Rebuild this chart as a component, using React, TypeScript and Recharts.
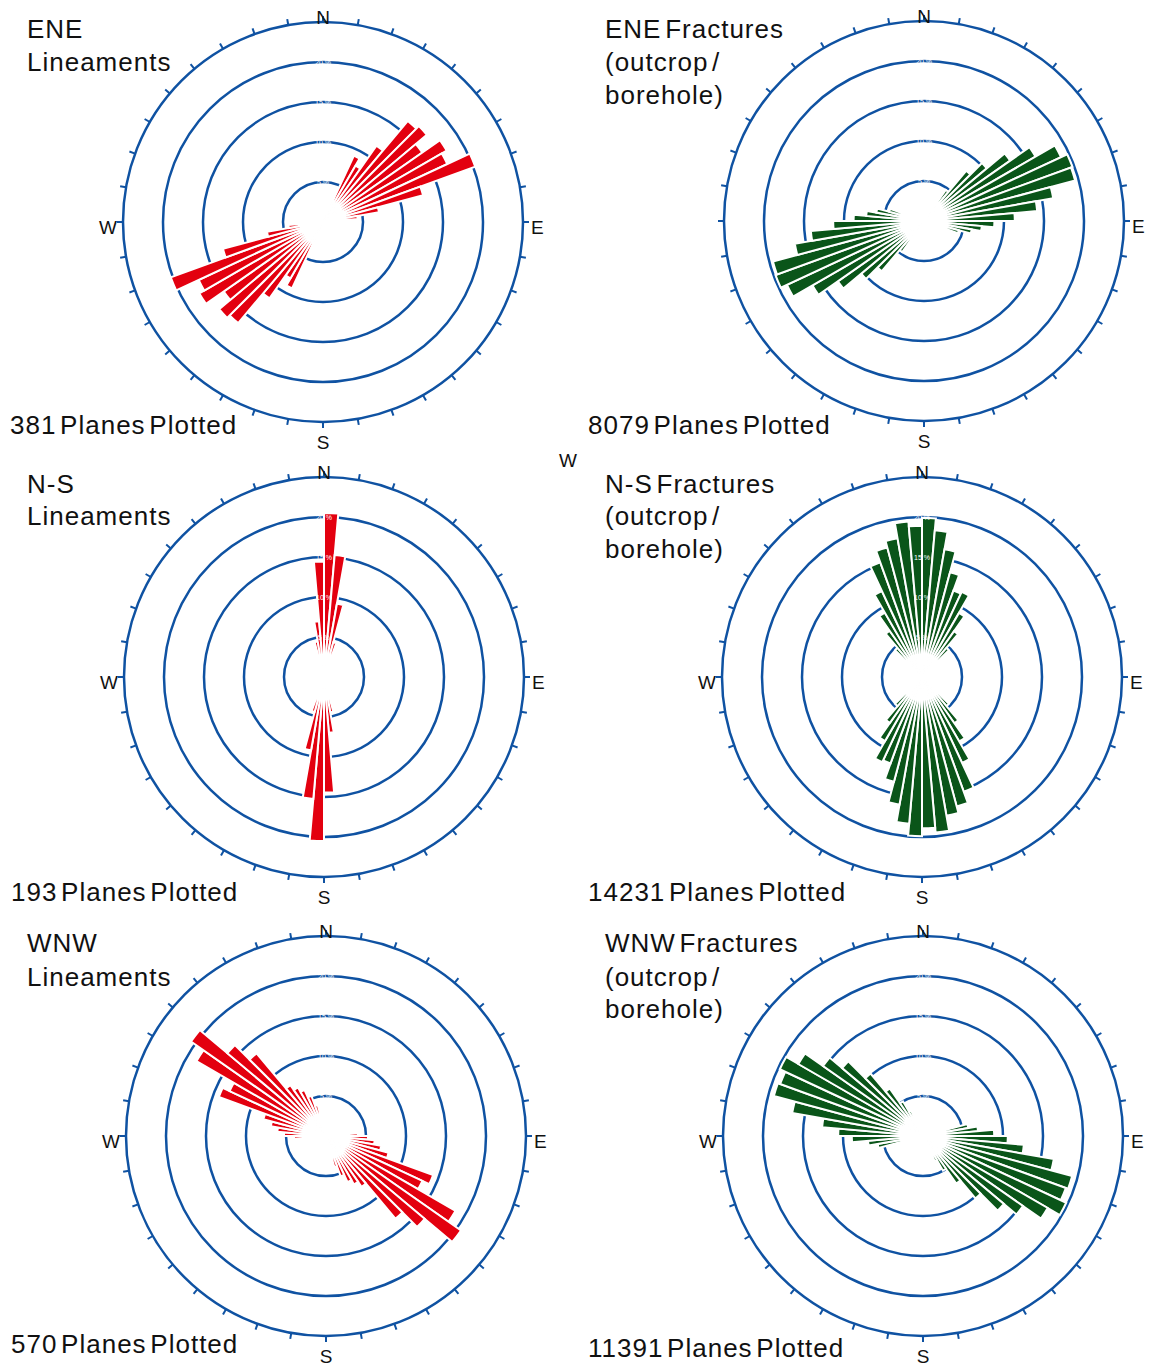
import React from "react";
import {
  RadialBarChart,
  RadialBar,
  PolarGrid,
  PolarAngleAxis,
  PolarRadiusAxis,
} from "recharts";

const BLUE = "#0f52a2";
const RED = "#e3000f";
const GREEN = "#0a5519";
const FONT = "'Liberation Sans', Arial, Helvetica, sans-serif";

// petal lengths per 5° strike bin, 0–180°; the 180–360° half mirrors it
const ENE_LINEAMENTS = [
  0, 0, 0, 0, 0, 1.83, 1.63, 2.33, 3.3, 3.39, 3.03, 3.57, 3.43, 4.05, 2.59, 1.42, 0.87, 0,
  0, 0, 0, 0, 0, 0, 0, 0, 0, 0, 0, 0, 0, 0, 0, 0, 0, 0,
];
const ENE_FRACTURES = [
  0, 0, 0, 0, 0, 0, 0, 0.95, 1.64, 2.05, 2.63, 3.22, 3.78, 3.95, 3.91, 3.28, 2.84, 2.27,
  1.76, 1.45, 1.21, 0.9, 0, 0, 0, 0, 0, 0, 0, 0, 0, 0, 0, 0, 0, 0,
];
const NS_LINEAMENTS = [
  4.1, 3.06, 1.86, 0.9, 0, 0, 0, 0, 0, 0, 0, 0, 0, 0, 0, 0, 0, 0,
  0, 0, 0, 0, 0, 0, 0, 0, 0, 0, 0, 0, 0, 0, 0, 0.9, 1.4, 2.89,
];
const NS_FRACTURES = [
  3.98, 3.68, 3.24, 2.71, 2.3, 2.35, 1.85, 1.4, 0.95, 0, 0, 0, 0, 0, 0, 0, 0, 0,
  0, 0, 0, 0, 0, 0, 0, 0, 0, 0.95, 1.41, 1.86, 2.37, 3.05, 3.35, 3.52, 3.9, 3.78,
];
const WNW_LINEAMENTS = [
  0, 0, 0, 0, 0, 0, 0, 0, 0, 0, 0, 0, 0, 0, 0, 0, 0, 0.8,
  1.05, 1.22, 1.4, 1.62, 2.85, 2.66, 3.74, 4.12, 3.22, 2.7, 1.55, 1.4, 1.27, 1.07, 0.8, 0, 0, 0,
];
const WNW_FRACTURES = [
  0, 0, 0, 0, 0, 0, 0, 0, 0, 0, 0, 0, 0, 0, 0, 1.15, 1.38, 1.78,
  2.12, 2.53, 3.32, 3.86, 3.8, 3.95, 3.6, 3.05, 2.64, 2.04, 1.45, 1.0, 0.7, 0, 0, 0, 0, 0,
];

const RINGS = [1, 2, 3, 4];
const COMPASS_TICKS = [
  0, 10, 20, 30, 40, 50, 60, 70, 80, 90, 100, 110, 120, 130, 140, 150, 160, 170,
  180, 190, 200, 210, 220, 230, 240, 250, 260, 270, 280, 290, 300, 310, 320, 330, 340, 350,
];

const SIZE = 470;
const HALF = SIZE / 2;
const R = 200;

const toRows = (half: number[]) =>
  [...half, ...half].map((v, i) => ({ bin: i * 5, value: v }));
const compassRows = COMPASS_TICKS.map((deg) => ({ deg, zero: 0 }));

const compassTick = (showW: boolean) => (props: any) => {
  const { x, y, payload } = props;
  const v = payload?.value;
  const t = { fontFamily: FONT, fontSize: 19, fill: "#111" };
  if (v === 0)
    return <text x={x} y={y + 8} textAnchor="middle" {...t}>N</text>;
  if (v === 90)
    return <text x={x + 2} y={y + 12} textAnchor="start" {...t}>E</text>;
  if (v === 180)
    return <text x={x} y={y + 21} textAnchor="middle" {...t}>S</text>;
  if (v === 270 && showW)
    return <text x={x} y={y + 12} textAnchor="end" {...t}>W</text>;
  return <g />;
};

// ring labels are printed in white in the source, only nicking the circles
const ringTick = (props: any) => {
  const { x, y, payload } = props;
  return (
    <text x={x} y={y + 3} textAnchor="middle" fontSize={7} fontFamily={FONT} fill="#fff">
      {payload?.value * 5} %
    </text>
  );
};

function Rose({ half, color, cx, cy, showW = true }: { half: number[]; color: string; cx: number; cy: number; showW?: boolean }) {
  const box = { position: "absolute" as const, left: cx - HALF, top: cy - HALF };
  return (
    <>
      <div style={box}>
        <RadialBarChart
          width={SIZE}
          height={SIZE}
          data={toRows(half)}
          layout="centric"
          cx={HALF}
          cy={HALF}
          innerRadius={0}
          outerRadius={R}
          startAngle={85}
          endAngle={-275}
          barCategoryGap={0}
          barGap={0}
          margin={{ top: 0, right: 0, bottom: 0, left: 0 }}
        >
          <PolarGrid gridType="circle" radialLines={false} stroke={BLUE} strokeWidth={2.5} />
          <PolarAngleAxis dataKey="bin" type="category" axisLine={false} tickLine={false} tick={false} />
          <PolarRadiusAxis
            type="number"
            domain={[0, 5]}
            ticks={RINGS}
            angle={90}
            axisLine={false}
            tickLine={false}
            tick={ringTick}
          />
          <PolarRadiusAxis
            radiusAxisId="south"
            type="number"
            domain={[0, 5]}
            ticks={RINGS}
            angle={-90}
            axisLine={false}
            tickLine={false}
            tick={ringTick}
          />
          <RadialBar dataKey="value" fill={color} stroke="#fff" strokeWidth={2} isAnimationActive={false} />
        </RadialBarChart>
      </div>
      <div style={{ ...box, pointerEvents: "none" }}>
        <RadialBarChart
          width={SIZE}
          height={SIZE}
          data={compassRows}
          layout="centric"
          cx={HALF}
          cy={HALF}
          innerRadius={0}
          outerRadius={R}
          startAngle={90}
          endAngle={-270}
          barCategoryGap={0}
          margin={{ top: 0, right: 0, bottom: 0, left: 0 }}
        >
          <PolarAngleAxis
            dataKey="deg"
            type="category"
            axisLineType="circle"
            tickSize={6}
            axisLine={{ stroke: BLUE, strokeWidth: 2.5 }}
            tickLine={{ stroke: BLUE, strokeWidth: 2 }}
            tick={compassTick(showW)}
          />
          <PolarRadiusAxis type="number" domain={[0, 5]} axisLine={false} tickLine={false} tick={false} />
          <RadialBar dataKey="zero" fill="none" stroke="none" isAnimationActive={false} />
        </RadialBarChart>
      </div>
    </>
  );
}

const txt = { fontFamily: FONT, fontSize: 26, fill: "#111", letterSpacing: 1, wordSpacing: -4.5 };

export default function App() {
  return (
    <div style={{ position: "absolute", left: 0, top: 0, width: 1149, height: 1367, background: "#fff" }}>
      <Rose half={ENE_LINEAMENTS} color={RED} cx={323.3} cy={221.5} />
      <Rose half={ENE_FRACTURES} color={GREEN} cx={924} cy={220.8} showW={false} />
      <Rose half={NS_LINEAMENTS} color={RED} cx={323.5} cy={677} />
      <Rose half={NS_FRACTURES} color={GREEN} cx={922.2} cy={676.7} />
      <Rose half={WNW_LINEAMENTS} color={RED} cx={326.3} cy={1136.4} />
      <Rose half={WNW_FRACTURES} color={GREEN} cx={923.2} cy={1136.4} />
      <svg width={1149} height={1367} style={{ position: "absolute", left: 0, top: 0, pointerEvents: "none" }}>
        <text x={27} y={38} {...txt}>ENE</text>
        <text x={27} y={71} {...txt}>Lineaments</text>
        <text x={10} y={434} {...txt}>381 Planes Plotted</text>

        <text x={605} y={38} {...txt}>ENE Fractures</text>
        <text x={605} y={71} {...txt}>(outcrop /</text>
        <text x={605} y={104} {...txt}>borehole)</text>
        <text x={588} y={434} {...txt}>8079 Planes Plotted</text>
        <text x={568} y={467} textAnchor="middle" fontFamily={FONT} fontSize={19} fill="#111">W</text>

        <text x={27} y={493} {...txt}>N-S</text>
        <text x={27} y={525} {...txt}>Lineaments</text>
        <text x={11} y={901} {...txt}>193 Planes Plotted</text>

        <text x={605} y={493} {...txt}>N-S Fractures</text>
        <text x={605} y={525} {...txt}>(outcrop /</text>
        <text x={605} y={558} {...txt}>borehole)</text>
        <text x={588} y={901} {...txt}>14231 Planes Plotted</text>

        <text x={27} y={952} {...txt}>WNW</text>
        <text x={27} y={986} {...txt}>Lineaments</text>
        <text x={11} y={1353} {...txt}>570 Planes Plotted</text>

        <text x={605} y={952} {...txt}>WNW Fractures</text>
        <text x={605} y={986} {...txt}>(outcrop /</text>
        <text x={605} y={1018} {...txt}>borehole)</text>
        <text x={588} y={1357} {...txt}>11391 Planes Plotted</text>
      </svg>
    </div>
  );
}
